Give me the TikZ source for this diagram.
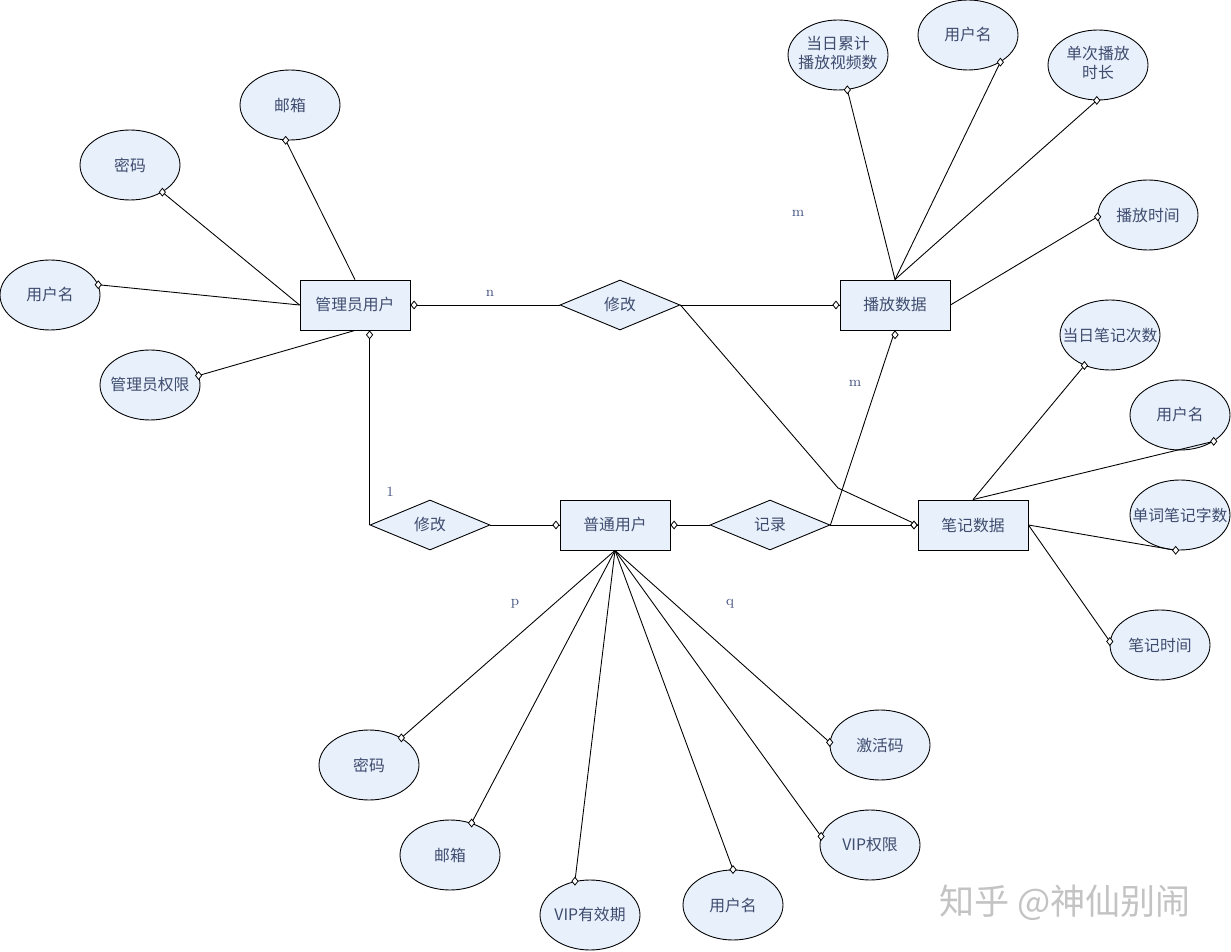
\documentclass[tikz,border=0pt]{standalone}
\usepackage{fontspec}
\newfontfamily\cjk{Noto Sans CJK SC}
\usetikzlibrary{shapes.geometric}
\definecolor{fillb}{RGB}{232,240,252}
\definecolor{txtc}{RGB}{62,76,110}
\definecolor{lblc}{RGB}{70,85,130}
\definecolor{wm}{RGB}{195,195,195}
\newcommand\zw[1]{\makebox[0pt]{#1}}
\begin{document}
\begin{tikzpicture}[x=0.02cm,y=-0.02cm,
  base/.style={draw=black, fill=fillb, line width=0.5pt, text=txtc, font=\cjk\fontsize{9}{11}\selectfont, inner sep=0pt},
  ent/.style={base, rectangle, minimum width=2.2cm, minimum height=1cm},
  rel/.style={base, diamond, aspect=2.4, minimum width=2.4cm, minimum height=1cm},
  attr/.style={base, ellipse, minimum width=2cm, minimum height=1.4cm},
  mk/.style={diamond, draw=black, fill=white, line width=0.45pt, inner sep=0pt, minimum width=0.13cm, minimum height=0.16cm},
  ln/.style={draw=black, line width=0.5pt},
  card/.style={text=lblc, font=\fontsize{8}{10}\selectfont},
]
\useasboundingbox (0,0) rectangle (1231,952);

% entities
\node[ent] (admin) at (355,305) {管理员用户};
\node[ent] (play) at (895,305) {播放数据};
\node[ent] (user) at (615,525) {普通用户};
\node[ent] (note) at (973,525) {笔记数据};
% relations
\node[rel] (mod1) at (620,305) {修改};
\node[rel] (mod2) at (430,525) {修改};
\node[rel] (rec) at (770,525) {记录};
% attributes
\node[attr] (amail) at (290,105) {\zw{邮箱}};
\node[attr] (apwd) at (130,165) {\zw{密码}};
\node[attr] (aname) at (50,295) {\zw{用户名}};
\node[attr] (aperm) at (150,385) {\zw{管理员权限}};
\node[attr] (pcnt) at (838,55) {\zw{\begin{tabular}{@{}c@{}}当日累计\\播放视频数\end{tabular}}};
\node[attr] (pname) at (968,35) {\zw{用户名}};
\node[attr] (pdur) at (1098,65) {\zw{\begin{tabular}{@{}c@{}}单次播放\\时长\end{tabular}}};
\node[attr] (ptime) at (1148,215) {\zw{播放时间}};
\node[attr] (ncnt) at (1110,335) {\zw{当日笔记次数}};
\node[attr] (nname) at (1180,415) {\zw{用户名}};
\node[attr] (nwords) at (1180,515) {\zw{单词笔记字数}};
\node[attr] (ntime) at (1160,645) {\zw{笔记时间}};
\node[attr] (upwd) at (369,765) {\zw{密码}};
\node[attr] (umail) at (450,855) {\zw{邮箱}};
\node[attr] (uvipd) at (590,915) {\zw{VIP有效期}};
\node[attr] (uname) at (733,905) {\zw{用户名}};
\node[attr] (uvipr) at (870,845) {\zw{VIP权限}};
\node[attr] (ucode) at (880,745) {\zw{激活码}};

% attribute connectors
\draw[ln] (amail.-97) -- (admin.north) node[pos=0,mk]{};
\draw[ln] (apwd.-40) -- (admin.west) node[pos=0,mk]{};
\draw[ln] (aname.12) -- (admin.west) node[pos=0,mk]{};
\draw[ln] (aperm.11) -- (admin.south) node[pos=0,mk]{};

\draw[ln] (pcnt.-75) -- (play.north) node[pos=0,mk]{};
\draw[ln] (pname.-40) -- (play.north) node[pos=0,mk]{};
\draw[ln] (pdur.-92) -- (play.north) node[pos=0,mk]{};
\draw[ln] (ptime.182) -- (play.east) node[pos=0,mk]{};

\draw[ln] (ncnt.-130) -- (note.north) node[pos=0,mk]{};
\draw[ln] (nname.-38) -- (note.north) node[pos=0,mk]{};
\draw[ln] (nwords.-97) -- (note.east) node[pos=0,mk]{};
\draw[ln] (ntime.176) -- (note.east) node[pos=0,mk]{};

\draw[ln] (upwd.40) -- (user.south) node[pos=0,mk]{};
\draw[ln] (umail.56) -- (user.south) node[pos=0,mk]{};
\draw[ln] (uvipd.114) -- (user.south) node[pos=0,mk]{};
\draw[ln] (uname.90) -- (user.south) node[pos=0,mk]{};
\draw[ln] (uvipr.170) -- (user.south) node[pos=0,mk]{};
\draw[ln] (ucode.177) -- (user.south) node[pos=0,mk]{};

% relationship connectors
\coordinate (bend) at (838,488);
\draw[ln] (admin.east) -- (mod1.west) node[pos=0,mk,anchor=west]{};
\draw[ln] (mod1.east) -- (play.west) node[pos=1,mk,anchor=east]{};
\draw[ln] (mod1.east) -- (bend) -- (note.west) node[pos=1,mk,anchor=east]{};
\draw[ln] (rec.east) -- (note.west) node[pos=1,mk,anchor=east]{};
\draw[ln] (rec.east) -- (play.south) node[pos=1,mk,anchor=north]{};
\draw[ln] (mod2.west) -- (mod2.west |- admin.south) node[pos=1,mk,anchor=north]{};
\draw[ln] (mod2.east) -- (user.west) node[pos=1,mk,anchor=east]{};
\draw[ln] (user.east) -- (rec.west) node[pos=0,mk,anchor=west]{};

% cardinalities
\node[card] (cn) at (490,293) {n};
\node[card] (cm1) at (798,213) {m};
\node[card] (cm2) at (855,383) {m};
\node[card] (c1) at (390,492) {1};
\node[card] (cp) at (515,604) {p};
\node[card] (cq) at (730,604) {q};

% watermark
\node[text=wm, font=\cjk\fontsize{20}{24}\selectfont] (wmk) at (1065,903) {知乎 @神仙别闹};
\end{tikzpicture}
\end{document}
